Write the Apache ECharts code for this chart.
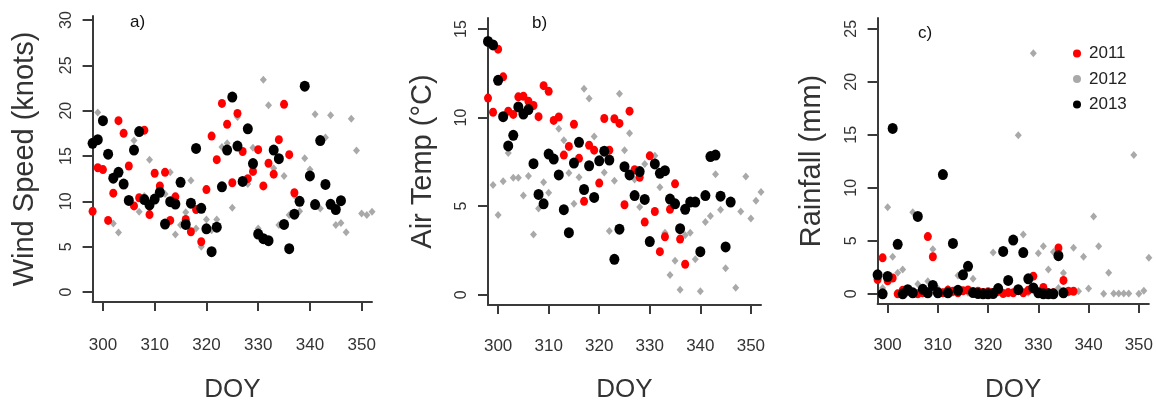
<!DOCTYPE html>
<html><head><meta charset="utf-8">
<script src="https://cdn.jsdelivr.net/npm/echarts@6/dist/echarts.min.js"></script>
<style>html,body{margin:0;padding:0;background:#fff}#c{width:1156px;height:408px}</style>
</head><body><div id="c"></div>
<script>
// All series start at DOY 298, one value per day (null = no visible point)
const startDoy = 298;
const xTicks = [300, 310, 320, 330, 340, 350];
const windTicks = [0, 5, 10, 15, 20, 25, 30];
const tempTicks = [0, 5, 10, 15];
const rainTicks = [0, 5, 10, 15, 20, 25];
const years = ['2011', '2012', '2013'];
const panelTitles = ['a)', 'b)', 'c)'];
const yNames = ['Wind Speed (knots)', 'Air Temp (°C)', 'Rainfall (mm)'];

// a) Wind speed (knots)
const wind2011 = [8.9,13.7,13.5,7.9,10.9,18.9,17.5,13.9,9.5,10.4,17.85,8.54,13.1,11.7,13.2,7.9,10.5,null,8.0,6.65,9.1,5.55,11.3,17.2,14.6,20.8,18.5,12.05,19.7,15.5,12.5,13.3,15.7,11.7,14.2,13.0,16.8,20.7,15.15,10.95];
const wind2012 = [null,19.8,30.5,null,7.55,6.57,null,null,16.7,8.84,10.6,14.6,null,11.75,10.8,13.2,6.35,7.4,8.8,12.3,7.0,5.0,8.0,6.8,8.0,16.0,16.4,9.3,19.3,null,11.9,15.9,7.0,23.4,20.6,13.65,7.4,12.8,8.5,10.65,8.9,14.75,13.5,19.6,9.2,17.05,19.5,7.4,7.6,6.6,19.1,15.6,8.65,8.5,8.85];
const wind2013 = [16.4,16.8,18.9,15.2,12.55,13.2,11.9,10.1,15.65,17.7,10.2,9.6,10.25,11.0,7.5,9.96,9.7,12.1,7.45,9.8,15.84,9.23,6.97,4.45,7.15,11.6,15.66,21.5,16.1,12.2,18.0,14.16,6.39,5.88,5.66,15.66,14.7,7.45,4.78,8.58,10.0,22.7,12.8,9.64,16.7,11.86,9.67,9.1,10.07];

// b) Air temperature (°C)
const temp2011 = [11.1,10.3,13.86,12.3,10.36,10.18,11.17,11.2,10.92,10.68,10.05,11.8,11.48,9.84,10.03,7.88,8.37,9.62,7.7,5.27,8.44,8.16,6.3,9.95,8.16,9.93,9.67,5.08,10.36,7.06,6.63,4.1,7.84,4.7,2.43,3.27,4.82,6.26,3.14,1.72];
const temp2012 = [null,6.2,4.5,6.4,8.0,6.6,6.6,5.6,6.7,3.4,4.86,6.35,5.75,null,9.37,8.72,6.87,5.14,6.63,11.63,11.07,8.93,null,6.9,3.6,6.44,11.35,8.15,9.11,6.5,4.95,7.38,7.84,7.84,6.07,3.5,1.12,1.92,0.28,3.36,3.5,2.0,0.19,4.1,4.44,6.8,4.8,1.5,null,0.4,4.7,6.67,4.3,5.3,5.8];
const temp2013 = [14.3,14.1,12.1,10.05,8.4,9.0,10.6,10.2,10.45,7.4,5.66,5.13,7.94,7.66,6.76,4.8,3.5,7.43,8.6,5.94,7.28,5.49,7.56,8.1,7.6,2.0,3.7,7.23,6.76,5.6,6.95,5.38,3.0,7.38,6.85,7.0,5.4,5.13,3.73,4.82,5.23,5.23,2.43,5.6,7.8,7.88,5.56,2.7,5.23];

// c) Rainfall (mm)
const rain2011 = [1.36,3.4,1.24,1.5,0,0.34,0.25,0.1,0,0.1,5.4,3.5,0.2,0.1,0.34,0.25,0.1,0.3,0.37,0.1,0.25,0.12,0.2,0.1,0.25,0.03,0.12,0.1,0.43,0.1,0.34,1.67,0.1,0.6,0.1,0.1,4.33,1.27,0.25,0.25];
const rain2012 = [null,0.56,8.16,3.5,2.0,2.3,0.1,7.7,0.93,0.5,1.2,4.2,0.5,0.2,0.5,0.1,1.73,1.9,0.1,1.42,0.1,0.1,0.1,3.9,0.1,0,0.1,null,14.96,5.6,0.1,22.7,3.83,4.5,2.3,3.95,0.56,1.98,0.1,4.36,0.25,3.5,0.5,7.3,4.5,0,2.0,0.03,0.03,0.03,0.03,13.1,0,0.3,3.4];
const rain2013 = [1.8,0,1.64,15.6,4.67,0,0.4,0.1,7.3,0.43,0.1,0.8,0.1,11.25,0.1,4.76,0.34,1.8,2.6,0.12,0.03,0,0,0.03,0.5,4.0,1.27,5.07,0.4,3.9,1.42,0.56,0.1,0,0,0,3.6,0.1];

const panels = [
  {vals: [wind2011, wind2012, wind2013], ticks: windTicks, ymin: -1.1, ymax: 30.44},
  {vals: [temp2011, temp2012, temp2013], ticks: tempTicks, ymin: -0.58, ymax: 15.62},
  {vals: [rain2011, rain2012, rain2013], ticks: rainTicks, ymin: -0.955, ymax: 26.02}
];

const FONT = 'Liberation Sans, Arial, sans-serif';
const grids = [
  {left: 92.6, top: 16, width: 279.4, height: 288},
  {left: 488, top: 18, width: 273, height: 289},
  {left: 877.6, top: 18, width: 273, height: 291}
];
const xNameGap = [75, 72, 73];
const xLabelMargin = [35, 33, 33];
const yNameGap = [53, 51, 51];

function toPoints(arr) {
  const out = [];
  arr.forEach((v, i) => { if (v !== null) out.push([startDoy + i, v]); });
  return out;
}

const styles = {
  '2011': {symbol: 'circle', symbolSize: [8, 9], color: '#ff0000'},
  '2012': {symbol: 'diamond', symbolSize: [7, 8], color: '#a9a9a9'},
  '2013': {symbol: 'circle', symbolSize: [10, 11], color: '#000000'}
};
const drawOrder = [1, 0, 2];

const axisCol = '#3a3a3a';
const xAxes = [], yAxes = [], series = [];
panels.forEach((p, i) => {
  xAxes.push({
    gridIndex: i, type: 'value', min: 298, max: 352,
    splitLine: {show: false},
    axisLine: {show: true, onZero: false, lineStyle: {color: axisCol, width: 2}},
    axisTick: {show: true, length: 9, customValues: xTicks, lineStyle: {color: axisCol, width: 2}},
    axisLabel: {customValues: xTicks, fontSize: 17, color: '#333', margin: xLabelMargin[i], fontFamily: FONT},
    name: 'DOY', nameLocation: 'middle', nameGap: xNameGap[i],
    nameTextStyle: {fontSize: 26, color: '#333', fontFamily: FONT}
  });
  yAxes.push({
    gridIndex: i, type: 'value', min: p.ymin, max: p.ymax,
    splitLine: {show: false},
    axisLine: {show: true, onZero: false, lineStyle: {color: axisCol, width: 2}},
    axisTick: {show: true, length: 10, customValues: p.ticks, lineStyle: {color: axisCol, width: 2}},
    axisLabel: {customValues: p.ticks, rotate: 90, fontSize: 16, color: '#333', margin: 18, fontFamily: FONT},
    name: yNames[i], nameLocation: 'middle', nameGap: yNameGap[i],
    nameTextStyle: {fontSize: 29, color: '#333', fontFamily: FONT}
  });
  drawOrder.forEach(k => {
    const y = years[k], s = styles[y];
    series.push({
      type: 'scatter', name: y, xAxisIndex: i, yAxisIndex: i,
      symbol: s.symbol, symbolSize: s.symbolSize,
      itemStyle: {color: s.color, opacity: 1},
      data: toPoints(p.vals[k]), silent: true
    });
  });
});

const titles = [
  {text: panelTitles[0], left: 130, top: 14},
  {text: panelTitles[1], left: 532, top: 15},
  {text: panelTitles[2], left: 918, top: 25}
].map(t => Object.assign(t, {padding: 0, textStyle: {fontSize: 17, fontWeight: 'normal', color: '#111', fontFamily: FONT}}));

const chart = echarts.init(document.getElementById('c'), null, {renderer: 'canvas'});
chart.setOption({
  animation: false,
  backgroundColor: '#fff',
  title: titles,
  grid: grids,
  xAxis: xAxes,
  yAxis: yAxes,
  legend: {
    orient: 'vertical', left: 1073, top: 45, itemWidth: 14, itemHeight: 8, itemGap: 8.5,
    selectedMode: false, padding: 0,
    textStyle: {fontSize: 17, color: '#222', fontFamily: FONT},
    data: years.map(y => ({name: y, icon: 'circle', itemStyle: {color: styles[y].color}}))
  },
  series: series
});
</script>
</body></html>
